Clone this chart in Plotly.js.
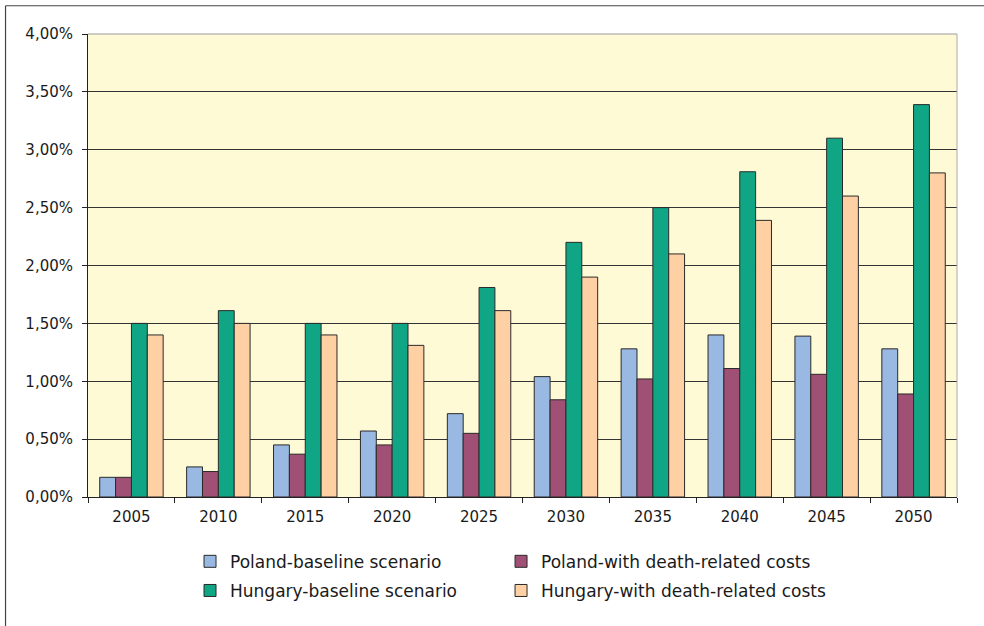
<!DOCTYPE html>
<html>
<head>
<meta charset="utf-8">
<script src="https://cdn.plot.ly/plotly-3.0.1.min.js"></script>
<style>
html,body{margin:0;padding:0;background:#fff;}
#chart{width:984px;height:626px;}
</style>
</head>
<body>
<div id="chart"></div>
<script>
const years = ["2005","2010","2015","2020","2025","2030","2035","2040","2045","2050"];
const polandBaseline = [0.17, 0.26, 0.45, 0.57, 0.72, 1.04, 1.28, 1.40, 1.39, 1.28];
const polandDeath    = [0.17, 0.22, 0.37, 0.45, 0.55, 0.84, 1.02, 1.11, 1.06, 0.89];
const hungaryBaseline= [1.50, 1.61, 1.50, 1.50, 1.81, 2.20, 2.50, 2.81, 3.10, 3.39];
const hungaryDeath   = [1.40, 1.50, 1.40, 1.31, 1.61, 1.90, 2.10, 2.39, 2.60, 2.80];
const yTickVals = [0, 0.5, 1, 1.5, 2, 2.5, 3, 3.5, 4];
const yTickText = ["0,00%","0,50%","1,00%","1,50%","2,00%","2,50%","3,00%","3,50%","4,00%"];

const outline = {color:'#2a2a2a', width:1};
function bar(name, y, color, legend){
  return {type:'bar', name:name, x:years, y:y, legend:legend,
    marker:{color:color, line:outline}, hoverinfo:'x+y'};
}
const data = [
  bar('Poland-baseline scenario', polandBaseline, '#99B8E2', 'legend'),
  bar('Poland-with death-related costs', polandDeath, '#A05074', 'legend3'),
  bar('Hungary-baseline scenario', hungaryBaseline, '#10A584', 'legend2'),
  bar('Hungary-with death-related costs', hungaryDeath, '#FFD0A4', 'legend4')
];

const fam = '"DejaVu Sans", Verdana, sans-serif';
function legendAt(x, y){
  return {orientation:'h', x:x, y:y, xanchor:'left', yanchor:'top',
    font:{family:fam, size:17, color:'#1a1a1a'}, bgcolor:'rgba(0,0,0,0)'};
}
const col1 = 0.1174, col2 = 0.4753, row1 = -0.101, row2 = -0.164;

const layout = {
  width:984, height:626,
  margin:{l:88, r:27, t:34, b:129, pad:0},
  paper_bgcolor:'#ffffff',
  plot_bgcolor:'#FFFAD6',
  barmode:'group',
  bargap:0.27,
  bargroupgap:0,
  font:{family:fam, size:15, color:'#1a1a1a'},
  xaxis:{
    type:'category',
    showline:true, linecolor:'#222', linewidth:1,
    ticks:'outside', ticklen:5, tickcolor:'#222', tickson:'boundaries',
    tickfont:{family:fam, size:15, color:'#1a1a1a'},
    showgrid:false, zeroline:false, ticklabelstandoff:6,
    fixedrange:true
  },
  yaxis:{
    range:[0,4],
    tickmode:'array', tickvals:yTickVals, ticktext:yTickText,
    showline:true, linecolor:'#222', linewidth:1,
    ticks:'outside', ticklen:5, tickcolor:'#222',
    showgrid:true, gridcolor:'#333', gridwidth:1,
    zeroline:false, tickfont:{family:fam, size:15, color:'#1a1a1a'},
    ticklabelstandoff:6,
    fixedrange:true
  },
  legend:legendAt(col1, row1),
  legend2:legendAt(col1, row2),
  legend3:legendAt(col2, row1),
  legend4:legendAt(col2, row2),
  shapes:[
    {type:'line', xref:'paper', yref:'paper', x0:0, x1:1, y0:1, y1:1, line:{color:'#999', width:1}},
    {type:'line', xref:'paper', yref:'paper', x0:1, x1:1, y0:0, y1:1, line:{color:'#aaa', width:1}},
    {type:'line', xref:'paper', yref:'paper', x0:-0.0949, x1:1.04, y0:1.061, y1:1.061, line:{color:'#444', width:1.2}},
    {type:'line', xref:'paper', yref:'paper', x0:-0.0949, x1:-0.0949, y0:1.061, y1:-0.28, line:{color:'#444', width:1.2}}
  ],
  showlegend:true
};

Plotly.newPlot('chart', data, layout, {displayModeBar:false, staticPlot:true});
</script>
</body>
</html>
